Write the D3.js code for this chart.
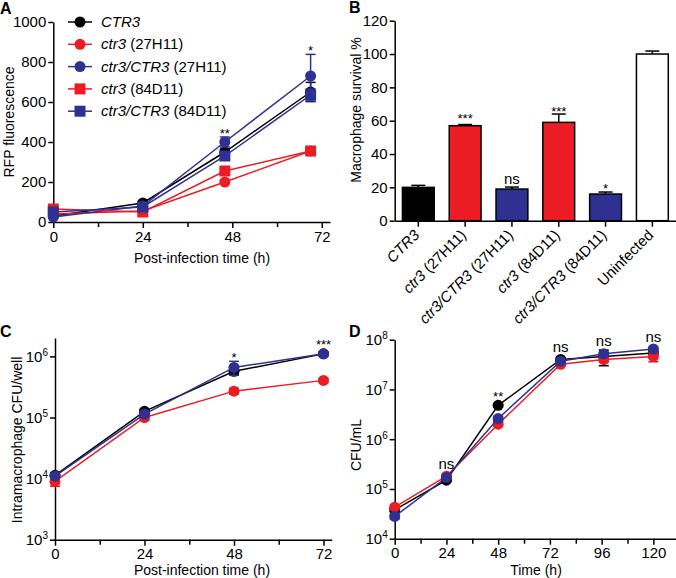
<!DOCTYPE html>
<html>
<head>
<meta charset="utf-8">
<script src="https://cdn.jsdelivr.net/npm/d3@7"></script>
<style>
body { margin: 0; background: #fff; }
svg { font-family: "Liberation Sans", Arial, sans-serif; }
.axis path, .axis line { stroke: #000; stroke-width: 1.5px; }
.axis text { font-size: 15px; fill: #000; font-family: "Liberation Sans", Arial, sans-serif; }
</style>
</head>
<body>
<script>
var RED = "#ec1c24", BLUE = "#2e3192", BLACK = "#000";

// ---- Panel A: RFP fluorescence ----
var timeA = [0, 24, 46, 69];
var rfpCTR3 = [30, 95, 350, 650], rfpCTR3Err = [8, 8, 15, 48];
var rfpCtr3_27 = [40, 55, 200, 355], rfpCtr3_27Err = [6, 6, 8, 8];
var rfpComp27 = [25, 80, 400, 730], rfpComp27Err = [6, 8, 25, 108];
var rfpCtr3_84 = [65, 50, 255, 355], rfpCtr3_84Err = [6, 6, 8, 8];
var rfpComp84 = [50, 75, 330, 635], rfpComp84Err = [6, 8, 15, 30];
var sigA = ["", "", "**", "*"];

// ---- Panel B: macrophage survival ----
var strainsB = ["CTR3", "ctr3 (27H11)", "ctr3/CTR3 (27H11)", "ctr3 (84D11)", "ctr3/CTR3 (84D11)", "Uninfected"];
var survival = [20, 57, 19, 59, 16, 100];
var survivalErr = [1.2, 0.7, 1.2, 5, 1.2, 1.8];
var sigB = ["", "***", "ns", "***", "*", ""];
var sigBLevel = [0, 63, 24.4, 67.4, 21.4, 0];

// ---- Panel C: intramacrophage CFU ----
var timeC = [0, 24, 48, 72];
var cfuC_CTR3 = [1.13e4, 1.26e5, 5.7e5, 1.1e6];
var cfuC_ctr3 = [9e3, 1.0e5, 2.7e5, 4.05e5];
var cfuC_comp = [1.1e4, 1.14e5, 6.6e5, 1.1e6];
var cfuC_CTR3Err = [1e3, 1e4, 6e4, 8e4];
var cfuC_ctr3Err = [1.5e3, 1e4, 3e4, 3e4];
var cfuC_compErr = [1e3, 1e4, 1.7e5, 8e4];
var sigC = ["", "", "*", "***"];

// ---- Panel D: CFU/mL in culture ----
var timeD = [0, 24, 48, 77, 97, 120];
var cfuD_CTR3 = [3.8e4, 1.5e5, 4.8e6, 4.0e7, 4.6e7, 5.4e7];
var cfuD_ctr3 = [4.3e4, 1.8e5, 2.0e6, 3.2e7, 4.0e7, 4.6e7];
var cfuD_comp = [2.8e4, 1.7e5, 2.6e6, 3.7e7, 5.2e7, 6.5e7];
var cfuD_CTR3Err = [3e3, 1e4, 4e5, 3e6, 1.6e7, 5e6];
var cfuD_ctr3Err = [3e3, 1e4, 2e5, 3e6, 4e6, 1e7];
var cfuD_compErr = [3e3, 1e4, 3e5, 3e6, 4e6, 5e6];
var sigD = ["", "ns", "**", "ns", "ns", "ns"];

var svg = d3.select("body").append("svg").attr("width", 676).attr("height", 578);

function panelLetter(txt, x, y) {
    svg.append("text").text(txt).attr("x", x).attr("y", y)
        .attr("font-size", 16).attr("font-weight", "bold");
}

function axisTitle(txt, x, y, rot) {
    var t = svg.append("text").text(txt).attr("text-anchor", "middle").attr("font-size", 14);
    if (rot) t.attr("transform", "translate(" + x + "," + y + ") rotate(-90)");
    else t.attr("x", x).attr("y", y);
}

function logLabels(sel) {
    sel.selectAll(".tick text").each(function(d) {
        var t = d3.select(this);
        t.text("10");
        t.append("tspan").text(Math.round(Math.log10(d))).attr("font-size", 10).attr("dy", -6);
    });
}

function minorTicks(g, x, vals, y0) {
    g.append("g").attr("class", "axis").attr("transform", "translate(0," + y0 + ")")
        .call(d3.axisBottom(x).tickValues(vals).tickFormat("").tickSize(5))
        .select(".domain").remove();
}

function drawSeries(g, x, y, times, vals, errs, color, shape) {
    var pts = times.map(function(t, i) { return {t: t, v: vals[i], e: errs[i]}; });
    var line = d3.line().x(function(d) { return x(d.t); }).y(function(d) { return y(d.v); });
    g.append("path").datum(pts).attr("d", line).attr("fill", "none")
        .attr("stroke", color).attr("stroke-width", 1.5);
    var eb = g.append("g").attr("stroke", color).attr("stroke-width", 1.5);
    pts.forEach(function(d) {
        var lo = y(d.v - d.e), hi = y(d.v + d.e), cx = x(d.t);
        eb.append("line").attr("x1", cx).attr("x2", cx).attr("y1", lo).attr("y2", hi);
        eb.append("line").attr("x1", cx - 5).attr("x2", cx + 5).attr("y1", lo).attr("y2", lo);
        eb.append("line").attr("x1", cx - 5).attr("x2", cx + 5).attr("y1", hi).attr("y2", hi);
    });
    if (shape === "square") {
        g.selectAll(null).data(pts).enter().append("rect")
            .attr("x", function(d) { return x(d.t) - 5.5; })
            .attr("y", function(d) { return y(d.v) - 5.5; })
            .attr("width", 11).attr("height", 11).attr("fill", color);
    } else {
        g.selectAll(null).data(pts).enter().append("circle")
            .attr("cx", function(d) { return x(d.t); })
            .attr("cy", function(d) { return y(d.v); })
            .attr("r", 5.5).attr("fill", color);
    }
}

function drawSig(g, x, y, times, labels, seriesList) {
    labels.forEach(function(s, i) {
        if (!s) return;
        var top = d3.min(seriesList, function(sr) {
            return Math.min(y(sr[0][i] + sr[1][i]), y(sr[0][i]) - 5.5);
        });
        var stars = s.indexOf("*") >= 0;
        g.append("text").text(s).attr("x", x(times[i])).attr("y", top - 2 + (stars ? 3 : 0))
            .attr("text-anchor", "middle").attr("font-size", stars ? 13 : 15);
    });
}

// ================= Panel A =================
var gA = svg.append("g");
var xA = d3.scaleLinear().domain([0, 74.2]).range([53.3, 330]);
var yA = d3.scaleLinear().domain([0, 1000]).range([222, 22]);
gA.append("g").attr("class", "axis").attr("transform", "translate(53.3,0)")
    .call(d3.axisLeft(yA).tickValues([0, 200, 400, 600, 800, 1000]).tickFormat(d3.format("d"))
        .tickSize(5).tickSizeOuter(0).tickPadding(2));
gA.append("g").attr("class", "axis").attr("transform", "translate(0,222)")
    .call(d3.axisBottom(xA).tickValues([0, 24, 48, 72]).tickSize(6).tickSizeOuter(0).tickPadding(3));
minorTicks(gA, xA, [12, 36, 60], 222);

var seriesA = [
    [rfpCTR3, rfpCTR3Err, BLACK, "circle"],
    [rfpCtr3_27, rfpCtr3_27Err, RED, "circle"],
    [rfpComp27, rfpComp27Err, BLUE, "circle"],
    [rfpCtr3_84, rfpCtr3_84Err, RED, "square"],
    [rfpComp84, rfpComp84Err, BLUE, "square"]
];
seriesA.forEach(function(s) { drawSeries(gA, xA, yA, timeA, s[0], s[1], s[2], s[3]); });
drawSig(gA, xA, yA, timeA, sigA, seriesA);

// legend
var legendA = [["CTR3", ""], ["ctr3", " (27H11)"], ["ctr3/CTR3", " (27H11)"], ["ctr3", " (84D11)"], ["ctr3/CTR3", " (84D11)"]];
legendA.forEach(function(l, i) {
    var ly = 22 + i * 22.3, s = seriesA[i];
    gA.append("line").attr("x1", 68).attr("x2", 92).attr("y1", ly).attr("y2", ly)
        .attr("stroke", s[2]).attr("stroke-width", 1.5);
    if (s[3] === "square") gA.append("rect").attr("x", 74.5).attr("y", ly - 5.5).attr("width", 11).attr("height", 11).attr("fill", s[2]);
    else gA.append("circle").attr("cx", 80).attr("cy", ly).attr("r", 5.5).attr("fill", s[2]);
    var t = gA.append("text").attr("x", 101).attr("y", ly + 5).attr("font-size", 15);
    t.append("tspan").text(l[0]).attr("font-style", "italic");
    t.append("tspan").text(l[1]);
});
axisTitle("RFP fluorescence", 14, 122, true);
axisTitle("Post-infection time (h)", 202, 263, false);
panelLetter("A", 0, 14);

// ================= Panel B =================
var gB = svg.append("g");
var xB = d3.scaleBand().domain(strainsB).range([394.7, 676]).paddingInner(0.32).paddingOuter(0.165);
var yB = d3.scaleLinear().domain([0, 120]).range([220.7, 20.7]);
var colorsB = [BLACK, RED, BLUE, RED, BLUE, "#fff"];
gB.selectAll(null).data(strainsB).enter().append("line")
    .attr("x1", function(d) { return xB(d) + xB.bandwidth() / 2; })
    .attr("x2", function(d) { return xB(d) + xB.bandwidth() / 2; })
    .attr("y1", function(d, i) { return yB(survival[i]); })
    .attr("y2", function(d, i) { return yB(survival[i] + survivalErr[i]); })
    .attr("stroke", "#000").attr("stroke-width", 1.5);
gB.selectAll(null).data(strainsB).enter().append("line")
    .attr("x1", function(d) { return xB(d) + xB.bandwidth() / 2 - 7; })
    .attr("x2", function(d) { return xB(d) + xB.bandwidth() / 2 + 7; })
    .attr("y1", function(d, i) { return yB(survival[i] + survivalErr[i]); })
    .attr("y2", function(d, i) { return yB(survival[i] + survivalErr[i]); })
    .attr("stroke", "#000").attr("stroke-width", 1.5);
gB.selectAll(null).data(strainsB).enter().append("rect")
    .attr("x", function(d) { return xB(d); })
    .attr("y", function(d, i) { return yB(survival[i]); })
    .attr("width", xB.bandwidth())
    .attr("height", function(d, i) { return yB(0) - yB(survival[i]); })
    .attr("fill", function(d, i) { return colorsB[i]; })
    .attr("stroke", "#000").attr("stroke-width", 1.5);
gB.append("g").attr("class", "axis").attr("transform", "translate(394.7,0)")
    .call(d3.axisLeft(yB).tickValues([0, 20, 40, 60, 80, 100, 120]).tickSize(5).tickSizeOuter(0).tickPadding(2));
gB.append("g").attr("class", "axis").attr("transform", "translate(0,220.7)")
    .call(d3.axisBottom(xB).tickFormat("").tickSize(6).tickSizeOuter(0));
strainsB.forEach(function(name, i) {
    var cx = xB(name) + xB.bandwidth() / 2;
    var t = gB.append("text").attr("text-anchor", "end").attr("font-size", 15)
        .attr("transform", "translate(" + (cx + 2) + ",236) rotate(-45)");
    var m = name.match(/^(\S+)(.*)$/);
    if (name === "Uninfected") t.text(name);
    else { t.append("tspan").text(m[1]).attr("font-style", "italic"); t.append("tspan").text(m[2]); }
    if (sigB[i]) {
        var stars = sigB[i].indexOf("*") >= 0;
        gB.append("text").text(sigB[i]).attr("x", cx).attr("y", yB(sigBLevel[i]) + (stars ? 7.5 : 3.9))
            .attr("text-anchor", "middle").attr("font-size", stars ? 13 : 15);
    }
});
axisTitle("Macrophage survival %", 361, 110, true);
panelLetter("B", 349, 13);

// ================= Panel C =================
var gC = svg.append("g");
var xC = d3.scaleLinear().domain([0, 74.2]).range([55, 331.7]);
var yC = d3.scaleLog().domain([1e3, 2e6]).range([539.7, 338]);
gC.append("g").attr("class", "axis").attr("transform", "translate(55,0)")
    .call(d3.axisLeft(yC).tickValues([1e3, 1e4, 1e5, 1e6]).tickSize(5).tickSizeOuter(0).tickPadding(2))
    .call(logLabels);
gC.append("g").attr("class", "axis").attr("transform", "translate(0,539.7)")
    .call(d3.axisBottom(xC).tickValues([0, 24, 48, 72]).tickSize(6).tickSizeOuter(0).tickPadding(3));
minorTicks(gC, xC, [12, 36, 60], 539.7);
var seriesC = [
    [cfuC_CTR3, cfuC_CTR3Err, BLACK],
    [cfuC_ctr3, cfuC_ctr3Err, RED],
    [cfuC_comp, cfuC_compErr, BLUE]
];
seriesC.forEach(function(s) { drawSeries(gC, xC, yC, timeC, s[0], s[1], s[2], "circle"); });
drawSig(gC, xC, yC, timeC, sigC, seriesC);
axisTitle("Intramacrophage CFU/well", 22, 440, true);
axisTitle("Post-infection time (h)", 202, 575, false);
panelLetter("C", 0, 337);

// ================= Panel D =================
var gD = svg.append("g");
var xD = d3.scaleLinear().domain([0, 130.5]).range([394.7, 676]);
var yD = d3.scaleLog().domain([1e4, 1e8]).range([538.7, 339.7]);
gD.append("g").attr("class", "axis").attr("transform", "translate(394.7,0)")
    .call(d3.axisLeft(yD).tickValues([1e4, 1e5, 1e6, 1e7, 1e8]).tickSize(5).tickSizeOuter(0).tickPadding(2))
    .call(logLabels);
gD.append("g").attr("class", "axis").attr("transform", "translate(0,538.7)")
    .call(d3.axisBottom(xD).tickValues([0, 24, 48, 72, 96, 120]).tickSize(6).tickSizeOuter(0).tickPadding(3));
minorTicks(gD, xD, [12, 36, 60, 84, 108], 538.7);
var seriesD = [
    [cfuD_CTR3, cfuD_CTR3Err, BLACK],
    [cfuD_ctr3, cfuD_ctr3Err, RED],
    [cfuD_comp, cfuD_compErr, BLUE]
];
seriesD.forEach(function(s) { drawSeries(gD, xD, yD, timeD, s[0], s[1], s[2], "circle"); });
drawSig(gD, xD, yD, timeD, sigD, seriesD);
axisTitle("CFU/mL", 361, 445, true);
axisTitle("Time (h)", 536, 575, false);
panelLetter("D", 349, 337);
</script>
</body>
</html>
